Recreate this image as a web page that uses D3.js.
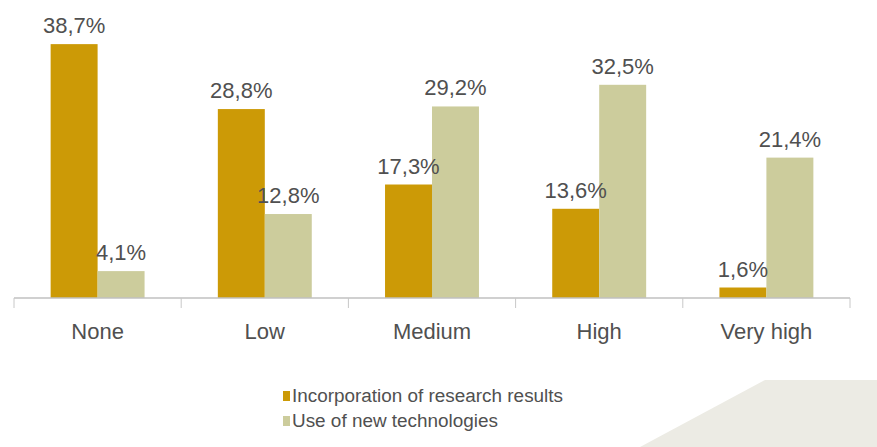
<!DOCTYPE html>
<html>
<head>
<meta charset="utf-8">
<script src="https://cdn.jsdelivr.net/npm/d3@7"></script>
<style>
  body { margin: 0; background: #fff; }
  text { font-family: Arial, "Liberation Sans", sans-serif; fill: #505050; }
</style>
</head>
<body>
<svg id="chart" width="877" height="447"></svg>
<script>
// Chart data
let categories = ["None", "Low", "Medium", "High", "Very high"];
let seriesNames = ["Incorporation of research results", "Use of new technologies"];
let research = [38.7, 28.8, 17.3, 13.6, 1.6];
let technologies = [4.1, 12.8, 29.2, 32.5, 21.4];
let colors = ["#cc9a06", "#cccc9c"];

let svg = d3.select("#chart");

// decorative corner shape
svg.append("polygon")
    .attr("points", "640,447 765,380 877,380 877,447")
    .attr("fill", "#ecebe4");

let rows = categories.map((c, i) => ({cat: c, values: [research[i], technologies[i]]}));

let x0 = d3.scaleBand().domain(categories).range([14, 850]).padding(0);
let x1 = d3.scaleBand().domain([0, 1]).range([0, x0.bandwidth()]).paddingInner(0).paddingOuter(0.78);
let y = d3.scaleLinear().domain([0, 40]).range([298, 35.6]);

let fmt = v => v.toFixed(1).replace(".", ",") + "%";

let groups = svg.append("g").selectAll("g")
    .data(rows)
    .enter().append("g")
    .attr("transform", d => "translate(" + x0(d.cat) + ",0)");

groups.selectAll("rect")
    .data(d => d.values.map((v, k) => ({k: k, v: v})))
    .enter().append("rect")
    .attr("x", d => x1(d.k))
    .attr("y", d => y(d.v))
    .attr("width", x1.bandwidth())
    .attr("height", d => y(0) - y(d.v))
    .attr("fill", d => colors[d.k]);

groups.selectAll("text.val")
    .data(d => d.values.map((v, k) => ({k: k, v: v})))
    .enter().append("text")
    .attr("class", "val")
    .attr("x", d => x1(d.k) + x1.bandwidth() / 2)
    .attr("y", d => y(d.v) - 11)
    .attr("text-anchor", "middle")
    .attr("font-size", 22)
    .text(d => fmt(d.v));

// category axis with ticks between groups
let axis = svg.append("g");
axis.append("line")
    .attr("x1", x0.range()[0]).attr("x2", x0.range()[1])
    .attr("y1", y(0)).attr("y2", y(0))
    .attr("stroke", "#c0c0c0").attr("stroke-width", 1.5);

let bounds = categories.map(c => x0(c)).concat([x0.range()[1]]);
axis.selectAll("line.tick").data(bounds).enter().append("line")
    .attr("class", "tick")
    .attr("x1", d => d).attr("x2", d => d)
    .attr("y1", y(0)).attr("y2", y(0) + 10)
    .attr("stroke", "#c8c8c8").attr("stroke-width", 1);

axis.selectAll("text").data(categories).enter().append("text")
    .attr("x", d => x0(d) + x0.bandwidth() / 2)
    .attr("y", 339)
    .attr("text-anchor", "middle")
    .attr("font-size", 22)
    .text(d => d);

// legend
let legend = svg.append("g").attr("transform", "translate(283,388)");
let items = legend.selectAll("g").data(seriesNames).enter().append("g")
    .attr("transform", (d, i) => "translate(0," + i * 25 + ")");
items.append("rect")
    .attr("x", 0).attr("y", 3)
    .attr("width", 7).attr("height", 10)
    .attr("fill", (d, i) => colors[i]);
items.append("text")
    .attr("x", 9).attr("y", 14)
    .attr("font-size", 18)
    .attr("textLength", (d, i) => i === 0 ? 271 : 206)
    .attr("lengthAdjust", "spacingAndGlyphs")
    .text(d => d);
</script>
</body>
</html>
